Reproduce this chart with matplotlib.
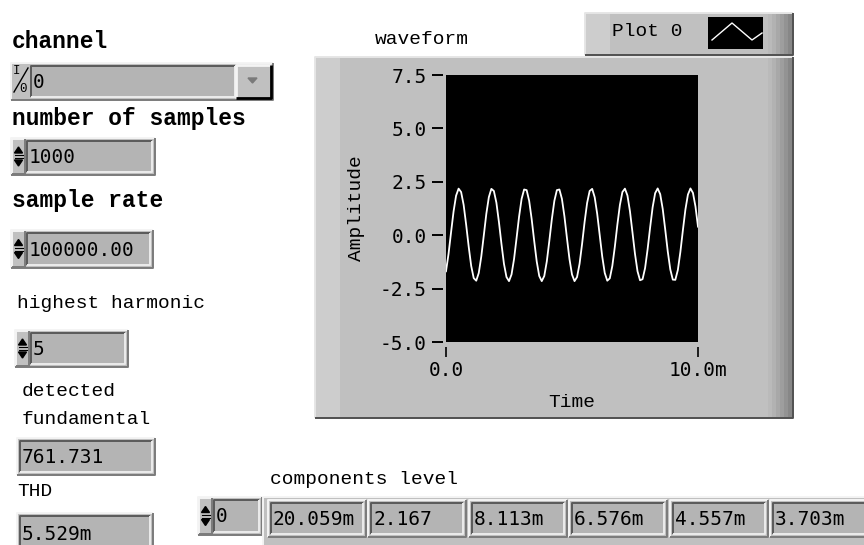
import numpy as np
import matplotlib
matplotlib.use("Agg")
import matplotlib.pyplot as plt
from matplotlib.patches import Rectangle, Polygon

plt.rcParams['axes.unicode_minus'] = False

# front panel values
channel = "0"
n_samples = "1000"
sample_rate = "100000.00"
highest_harmonic = "5"
fundamental = "761.731"
thd = "5.529m"
component_index = "0"
components_level = ["20.059m", "2.167", "8.113m", "6.576m", "4.557m", "3.703m"]

# waveform, one point every 0.1 ms (0 .. 10 ms)
amplitude = [-1.69, -0.88, 0.13, 1.11, 1.85, 2.18, 2.02, 1.42, 0.49, -0.53,
             -1.44, -2.01, -2.13, -1.77, -1.00, -0.01, 1.00, 1.78, 2.17, 2.07,
             1.52, 0.62, -0.40, -1.34, -1.96, -2.15, -1.84, -1.12, -0.14, 0.87,
             1.70, 2.14, 2.11, 1.61, 0.75, -0.27, -1.23, -1.91, -2.15, -1.91,
             -1.23, -0.27, 0.75, 1.61, 2.11, 2.14, 1.70, 0.88, -0.14, -1.12,
             -1.84, -2.15, -1.96, -1.34, -0.41, 0.62, 1.51, 2.07, 2.17, 1.78,
             1.00, 0.00, -1.00, -1.77, -2.13, -2.02, -1.44, -0.54, 0.49, 1.41,
             2.02, 2.18, 1.86, 1.12, 0.13, -0.88, -1.69, -2.11, -2.06, -1.54,
             -0.66, 0.36, 1.31, 1.97, 2.19, 1.92, 1.23, 0.26, -0.76, -1.60,
             -2.08, -2.09, -1.63, -0.79, 0.23, 1.20, 1.90, 2.19, 1.98, 1.34,
             0.40]
dt = 1e-4

y_ticks = [-5.0, -2.5, 0.0, 2.5, 5.0, 7.5]
x_ticks = [0.0, 0.01]
x_tick_labels = ["0.0", "10.0m"]
plot_name = "Plot 0"

PANEL = '#c0c0c0'
FIELD = '#b4b4b4'
LIGHT = '#f4f4f4'
SHADOW = '#7b7b7b'
LABEL_FONT = 'Liberation Mono'
NUM_FONT = 'DejaVu Sans Mono'

fig = plt.figure(figsize=(8.64, 5.45), dpi=100)
fig.patch.set_facecolor('white')

# overlay in pixel coordinates for the panel widgets
ax0 = fig.add_axes([0, 0, 1, 1])
ax0.set_xlim(0, 864)
ax0.set_ylim(545, 0)
ax0.axis('off')


def edge(x, y, w, h, tl, br, lw=1.0):
    ax0.plot([x, x, x + w], [y + h, y, y], color=tl, lw=lw, solid_capstyle='butt')
    ax0.plot([x, x + w, x + w], [y + h, y + h, y], color=br, lw=lw, solid_capstyle='butt')


def raised(x, y, w, h, face=PANEL):
    ax0.add_patch(Rectangle((x, y), w, h, facecolor=face, edgecolor='none'))
    edge(x, y, w, h, LIGHT, SHADOW, 1.4)


def sunken(x, y, w, h):
    ax0.add_patch(Rectangle((x, y), w, h, facecolor=FIELD, edgecolor='none'))
    edge(x, y, w, h, '#5a5a5a', '#ececec', 1.4)


def spin_arrows(x, y, h):
    raised(x + 1, y + 1, 13, h - 2)
    cx = x + 7.5
    yc = y + h / 2
    ax0.add_patch(Polygon([[cx - 4, yc - 3.5], [cx + 4, yc - 3.5], [cx, yc - 9.5]], closed=True, color='black'))
    ax0.add_patch(Polygon([[cx - 4, yc + 3.5], [cx + 4, yc + 3.5], [cx, yc + 9.5]], closed=True, color='black'))
    ax0.plot([cx - 4, cx + 4], [yc - 1.5, yc - 1.5], color='black', lw=0.8)
    ax0.plot([cx - 4, cx + 4], [yc + 1.5, yc + 1.5], color='black', lw=0.8)


def numeric(x, y, w, h, txt, spin=True, size=14):
    raised(x, y, w, h)
    left = x + 3
    if spin:
        spin_arrows(x, y, h)
        left = x + 16
    sunken(left, y + 3, x + w - left - 3, h - 6)
    ax0.text(left + 2, y + h / 2 + 1, txt, fontsize=size, family=NUM_FONT,
             va='center', ha='left', color='black')


def panel(x, y, w, h):
    ax0.add_patch(Rectangle((x, y), w, h, facecolor=PANEL, edgecolor='none'))
    ax0.add_patch(Rectangle((x + 1, y + 1), 24, h - 2, facecolor='#cdcdcd', edgecolor='none'))
    shades = ['#bababa', '#b2b2b2', '#a8a8a8', '#9e9e9e', '#939393', '#878787']
    for i, c in enumerate(shades):
        ax0.add_patch(Rectangle((x + w - 25 + 4 * i, y + 1), 4, h - 2, facecolor=c, edgecolor='none'))
    edge(x, y, w, h, '#e6e6e6', '#505050', 1.4)


# labels
ax0.text(12, 42, "channel", fontsize=16.5, family=LABEL_FONT, weight='bold', va='center')
ax0.text(12, 118, "number of samples", fontsize=16.5, family=LABEL_FONT, weight='bold', va='center')
ax0.text(12, 200, "sample rate", fontsize=16.5, family=LABEL_FONT, weight='bold', va='center')
ax0.text(17, 304, "highest harmonic", fontsize=14, family=LABEL_FONT, va='center')
ax0.text(22, 392, "detected", fontsize=14, family=LABEL_FONT, va='center')
ax0.text(22, 420, "fundamental", fontsize=14, family=LABEL_FONT, va='center')
ax0.text(17, 492, "THD", fontsize=14, family=LABEL_FONT, va='center')
ax0.text(270, 479, "components level", fontsize=14, family=LABEL_FONT, va='center')
ax0.text(375, 40, "waveform", fontsize=14, family=LABEL_FONT, va='center')

# channel ring / dropdown
raised(11, 63, 262, 37)
ax0.text(17, 71, "I", fontsize=9, family=LABEL_FONT, va='center', ha='center')
ax0.plot([14, 28], [92, 68], color='black', lw=1.0)
ax0.text(23, 89, "0", fontsize=9, family=LABEL_FONT, va='center', ha='center')
sunken(31, 66, 204, 31)
ax0.text(33, 82, channel, fontsize=14, family=NUM_FONT, va='center')
ax0.add_patch(Rectangle((236, 65), 35, 33, facecolor=PANEL, edgecolor='none'))
edge(236, 65, 35, 33, LIGHT, 'black', 2.0)
ax0.add_patch(Polygon([[248, 78], [257, 78], [252.5, 83]], closed=True, color='#7a7a7a'))

# controls and indicators on the left
numeric(11, 138, 144, 37, n_samples)
numeric(11, 230, 142, 38, sample_rate)
numeric(15, 330, 113, 37, highest_harmonic)
numeric(17, 438, 138, 37, fundamental, spin=False)
numeric(17, 513, 136, 40, thd, spin=False)

# components level array
numeric(198, 497, 64, 38, component_index)
raised(263, 497, 620, 52)
for i, val in enumerate(components_level):
    numeric(268 + 100.4 * i, 500, 98, 37, val, spin=False)

# graph frame and legend
panel(315, 57, 478, 361)
panel(585, 13, 208, 42)
ax0.text(612, 31, plot_name, fontsize=14, family=LABEL_FONT, va='center')
ax0.add_patch(Rectangle((708, 17), 55, 32, facecolor='black', edgecolor='none'))
ax0.plot([712, 732, 752, 762], [40, 23, 40, 33], color='white', lw=1.0)

# waveform graph
ax = fig.add_axes([446 / 864, 1 - 342 / 545, 252 / 864, 267 / 545])
t = np.arange(len(amplitude)) * dt
ax.plot(t, amplitude, color='white', lw=1.3)
ax.set_facecolor('black')
ax.set_xlim(0, 0.01)
ax.set_ylim(-5, 7.5)
ax.set_yticks(y_ticks)
ax.set_yticklabels([f"{v:.1f}" for v in y_ticks])
ax.set_xticks(x_ticks)
ax.set_xticklabels(x_tick_labels)
for s in ax.spines.values():
    s.set_visible(False)
ax.spines['bottom'].set_position(('outward', 3.6))
ax.spines['left'].set_position(('outward', 2.2))
ax.tick_params(axis='y', length=8, width=1.4, pad=3.5, color='black')
ax.tick_params(axis='x', length=7.2, width=1.2, pad=3, color='black')
for lab in ax.get_xticklabels() + ax.get_yticklabels():
    lab.set_fontfamily(NUM_FONT)
    lab.set_fontsize(14)
ax.set_ylabel("Amplitude", fontsize=14, family=LABEL_FONT)
ax.set_xlabel("Time", fontsize=14, family=LABEL_FONT)
ax.yaxis.set_label_coords(-0.32, 0.5)
ax.xaxis.set_label_coords(0.5, -0.195)

fig.savefig("out.png", dpi=100, facecolor='white')
